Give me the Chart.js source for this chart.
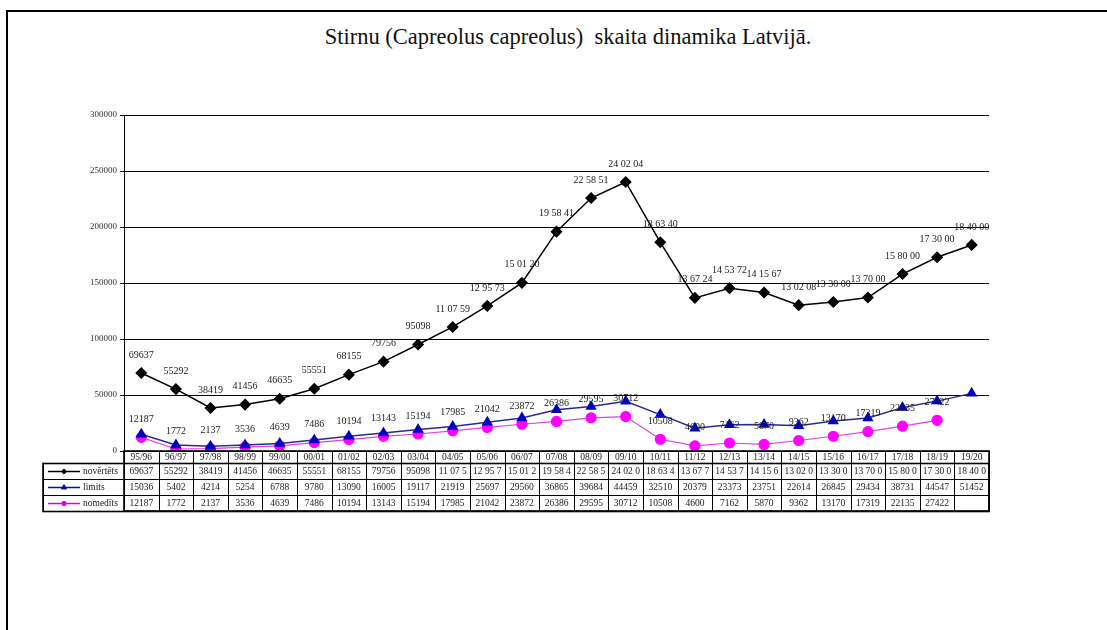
<!DOCTYPE html>
<html lang="lv">
<head>
  <meta charset="UTF-8" />
  <title>Stirnu skaita dinamika</title>
  <script src="https://cdn.jsdelivr.net/npm/chart.js"></script>
  <style>
    html, body { margin: 0; padding: 0; background: #fff; }
    .page { position: relative; width: 1107px; height: 630px; overflow: hidden; }
    .frame { position: absolute; left: 6px; top: 10px; right: -4px; bottom: -4px;
             border-top: 2px solid #000; border-left: 2px solid #000; }
    .title { position: absolute; left: 0; width: 1136px; top: 24px; text-align: center;
             font-family: "Liberation Serif", "DejaVu Serif", serif; font-size: 22.5px;
             white-space: pre; color: #111; }
    #chart { position: absolute; left: 0; top: 0; }
  </style>
</head>
<body>
  <div class="page">
    <div class="frame"></div>
    <div class="title">Stirnu (Capreolus capreolus)  skaita dinamika Latvijā.</div>
    <canvas id="chart" width="1107" height="630"></canvas>
  </div>

  <script>
    // seasons
    const seasons = ['95/96', '96/97', '97/98', '98/99', '99/00', '00/01', '01/02', '02/03', '03/04', '04/05',
      '05/06', '06/07', '07/08', '08/09', '09/10', '10/11', '11/12', '12/13', '13/14', '14/15',
      '15/16', '16/17', '17/18', '18/19', '19/20'];

    // novērtēts (estimated)
    const novertets = [69637, 55292, 38419, 41456, 46635, 55551, 68155, 79756, 95098, 110759,
      129573, 150120, 195841, 225851, 240204, 186340, 136724, 145372, 141567, 130208,
      133000, 137000, 158000, 173000, 184000];
    // limits
    const limits = [15036, 5402, 4214, 5254, 6788, 9780, 13090, 16005, 19117, 21919,
      25697, 29560, 36865, 39684, 44459, 32510, 20379, 23373, 23751, 22614,
      26845, 29434, 38731, 44547, 51452];
    // nomedīts (harvested)
    const nomedits = [12187, 1772, 2137, 3536, 4639, 7486, 10194, 13143, 15194, 17985,
      21042, 23872, 26386, 29595, 30712, 10508, 4600, 7162, 5870, 9362,
      13170, 17319, 22135, 27422, null];

    // labels as printed on the chart
    const novLabels = ['69637', '55292', '38419', '41456', '46635', '55551', '68155', '79756', '95098', '11 07 59',
      '12 95 73', '15 01 20', '19 58 41', '22 58 51', '24 02 04', '18 63 40', '13 67 24', '14 53 72', '14 15 67', '13 02 08',
      '13 30 00', '13 70 00', '15 80 00', '17 30 00', '18 40 00'];
    // values as printed in the data table
    const novTable = ['69637', '55292', '38419', '41456', '46635', '55551', '68155', '79756', '95098', '11 07 5',
      '12 95 7', '15 01 2', '19 58 4', '22 58 5', '24 02 0', '18 63 4', '13 67 7', '14 53 7', '14 15 6', '13 02 0',
      '13 30 0', '13 70 0', '15 80 0', '17 30 0', '18 40 0'];

    const yTicks = [0, 50000, 100000, 150000, 200000, 250000, 300000];

    const FONT = '"Liberation Serif", "DejaVu Serif", serif';

    // value labels above points
    const pointLabels = {
      id: 'pointLabels',
      afterDatasetsDraw(chart) {
        const ctx = chart.ctx;
        ctx.save();
        ctx.font = '10px ' + FONT;
        ctx.fillStyle = '#222';
        ctx.textAlign = 'center';
        ctx.textBaseline = 'middle';
        chart.getDatasetMeta(0).data.forEach((p, i) => {
          ctx.fillText(novLabels[i], p.x, p.y - 18);
        });
        chart.getDatasetMeta(2).data.forEach((p, i) => {
          if (nomedits[i] == null) return;
          ctx.fillText(String(nomedits[i]), p.x, p.y - 18);
        });
        ctx.restore();
      }
    };

    // data table under the x axis
    const dataTable = {
      id: 'dataTable',
      afterDraw(chart) {
        const ctx = chart.ctx;
        const x = chart.scales.x;
        const area = chart.chartArea;
        const n = seasons.length;
        const w = (area.right - area.left) / n;
        const top = area.bottom;
        const headH = 12;
        const rowH = 16;
        const legL = 43;
        const rows = [
          { name: 'novērtēts', color: '#000', values: novTable, style: 'rectRot', r: 2.6 },
          { name: 'limits', color: '#1010a0', values: limits.map(String), style: 'triangle', r: 3 },
          { name: 'nomedīts', color: '#e000e0', values: nomedits.map(v => v == null ? '' : String(v)), style: 'circle', r: 2.2 }
        ];
        const bodyTop = top + headH;
        const bottom = bodyTop + rowH * rows.length;

        ctx.save();
        ctx.strokeStyle = '#000';
        ctx.lineWidth = 1;
        ctx.font = '9.5px ' + FONT;
        ctx.fillStyle = '#222';
        ctx.textAlign = 'center';
        ctx.textBaseline = 'middle';

        // column lines + header
        for (let i = 0; i <= n; i++) {
          const cx = Math.round(area.left + i * w) + 0.5;
          ctx.beginPath();
          ctx.moveTo(cx, top);
          ctx.lineTo(cx, bottom);
          ctx.stroke();
        }
        seasons.forEach((s, i) => {
          ctx.fillText(s, x.getPixelForValue(i), top + headH / 2 + 0.5);
        });

        // row lines
        for (let r = 0; r <= rows.length; r++) {
          const ry = Math.round(bodyTop + r * rowH) + 0.5;
          ctx.beginPath();
          ctx.moveTo(legL, ry);
          ctx.lineTo(area.right, ry);
          ctx.stroke();
        }
        ctx.beginPath();
        ctx.moveTo(legL + 0.5, bodyTop);
        ctx.lineTo(legL + 0.5, bottom);
        ctx.stroke();

        // outer border a bit heavier
        ctx.lineWidth = 1.6;
        ctx.strokeRect(legL, Math.round(bodyTop) + 0.5, area.right - legL, Math.round(rowH * rows.length));
        ctx.strokeRect(area.left, top, area.right - area.left, bottom - top);
        ctx.lineWidth = 1;

        rows.forEach((row, r) => {
          const cy = bodyTop + r * rowH + rowH / 2 + 0.5;
          row.values.forEach((v, i) => {
            ctx.fillStyle = '#222';
            ctx.fillText(v, x.getPixelForValue(i), cy);
          });
          // legend key
          ctx.strokeStyle = row.color;
          ctx.lineWidth = 1.5;
          ctx.beginPath();
          ctx.moveTo(48, cy);
          ctx.lineTo(80, cy);
          ctx.stroke();
          ctx.fillStyle = row.color;
          ctx.lineWidth = 1;
          Chart.helpers.drawPoint(ctx, { pointStyle: row.style, radius: row.r, borderWidth: 1 }, 64, cy);
          ctx.fillStyle = '#222';
          ctx.textAlign = 'left';
          ctx.fillText(row.name, 83, cy);
          ctx.textAlign = 'center';
          ctx.strokeStyle = '#000';
          ctx.lineWidth = 1;
        });
        ctx.restore();
      }
    };

    new Chart(document.getElementById('chart'), {
      type: 'line',
      data: {
        labels: seasons,
        datasets: [
          {
            label: 'novērtēts',
            data: novertets,
            borderColor: '#000',
            backgroundColor: '#000',
            borderWidth: 1.5,
            pointStyle: 'rectRot',
            pointRadius: 5,
            tension: 0
          },
          {
            label: 'limits',
            data: limits,
            borderColor: '#2a2a90',
            backgroundColor: '#0000c0',
            pointBorderColor: '#0000c0',
            borderWidth: 1.5,
            pointStyle: 'triangle',
            pointRadius: 5,
            tension: 0
          },
          {
            label: 'nomedīts',
            data: nomedits,
            borderColor: '#e040e0',
            backgroundColor: '#ff00ff',
            pointBorderColor: '#ff00ff',
            borderWidth: 1.2,
            pointStyle: 'circle',
            pointRadius: 5,
            tension: 0
          }
        ]
      },
      options: {
        responsive: false,
        animation: false,
        layout: { padding: { left: 60, top: 115, right: 118, bottom: 179 } },
        plugins: {
          legend: { display: false },
          tooltip: { enabled: false }
        },
        scales: {
          x: {
            offset: true,
            ticks: { display: false },
            grid: { display: false },
            border: { display: false },
            afterFit(scale) { scale.height = 0; }
          },
          y: {
            min: 0,
            max: 300000,
            afterBuildTicks(scale) { scale.ticks = yTicks.map(v => ({ value: v })); },
            ticks: {
              padding: 3,
              color: '#333',
              font: { family: FONT, size: 9 },
              callback: v => String(v)
            },
            grid: { color: '#000', lineWidth: 1, tickLength: 4, drawTicks: true },
            border: { display: true, color: '#000', width: 1 },
            afterFit(scale) { scale.width = 64; }
          }
        }
      },
      plugins: [pointLabels, dataTable]
    });
  </script>
</body>
</html>
